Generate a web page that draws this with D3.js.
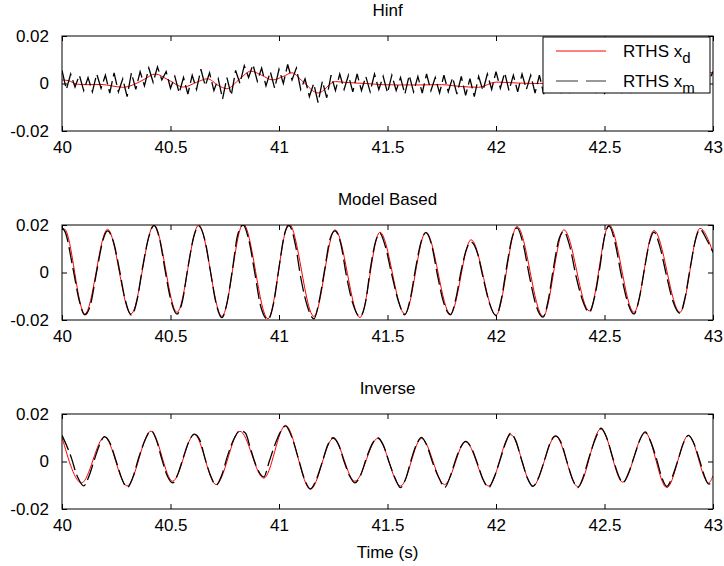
<!DOCTYPE html>
<html>
<head>
<meta charset="utf-8">
<script src="https://cdn.jsdelivr.net/npm/d3@7"></script>
<style>
body { margin: 0; background: #fff; }
text { font-family: "Liberation Sans", Arial, sans-serif; fill: #000; }
</style>
</head>
<body>
<svg></svg>
<script>
var W = 724, H = 566;

var xTicks = [40, 40.5, 41, 41.5, 42, 42.5, 43];
var xTickLabels = ['40', '40.5', '41', '41.5', '42', '42.5', '43'];
var yTicks = [-0.02, 0, 0.02];
var yTickLabels = ['-0.02', '0', '0.02'];
var titles = ['Hinf', 'Model Based', 'Inverse'];
var legendNames = [['RTHS x', 'd'], ['RTHS x', 'm']];

// values in units of 1e-3 m, pairs are [time (s), value]
var hinfXd = [[40.0, 1.5], [40.03, 1.2], [40.07, -0.3], [40.12, -0.5], [40.18, -0.4], [40.23, -1.0],
  [40.28, -1.6], [40.33, -0.5], [40.38, 1.8], [40.43, 4.0], [40.49, 1.5], [40.56, -1.5], [40.62, 0.5],
  [40.67, 2.0], [40.72, -0.8], [40.76, -2.2], [40.82, 2.0], [40.87, 5.2], [40.92, 3.5], [40.97, 1.5],
  [41.02, 3.0], [41.06, 4.5], [41.11, 0.8], [41.18, -4.0], [41.26, 0.8], [41.3, 0.5], [41.4, 0],
  [41.48, -0.5], [41.55, -0.6], [41.65, -0.6], [41.75, -0.5], [41.83, -1.2], [41.92, -1.6], [42.0, 0.6],
  [42.1, 0.2], [42.2, 0], [42.3, 0.5], [42.45, 1], [42.6, 0], [42.75, 1.5], [42.9, 3], [43.0, 4.7]];

// measured Hinf response, one sample every 0.02 s starting at 40 s
var hinfStart = 40, hinfStep = 0.02;
var hinfXm = [
  5.5, -2.5, 4, -1.5, 3.5, -3, 2.5, -3.5, 4, -2,
  3.5, -4, 4.5, -3.5, 2, -5.5, 4.5, -2.5, 5, -1,
  6.5, 0.5, 7, 1.5, 5, -2, 3, -4, 2.5, -4.5,
  3.5, -2.5, 6, -1, 4.5, -3, 2, -6.5, 2.5, -5,
  5.5, 0, 7.5, 2.5, 8, 1, 6.5, -1, 5, -2,
  6, 0, 8, 1.5, 6.5, -2.5, 2, -5.5, 0, -8,
  1, -6, 3.5, -3, 4, -2.5, 3.5, -3.5, 4, -3,
  3, -3.5, 4, -2.5, 3, -4, 3.5, -3, 2.5, -4.5,
  3.5, -3.5, 3, -4, 4, -3, 2.5, -4, 3.5, -3.5,
  2.5, -4.5, 3, -5, 2, -5.5, 3, -3, 4, -2.5,
  5, -2, 4.5, -3, 3.5, -3.5, 4, -2.5, 3.5, -4,
  3.5, -4.5, 4, -3, 3.5, -3.5, 3, -4, 3.5, -3,
  4, -3.5, 3.5, -4, 3, -4.5, 4, -3, 3.5, -4,
  3, -4, 3.5, -3.5, 4.5, -2.5, 4, -3, 5, -2,
  5.5, -1.5, 5, -2, 6, -1, 5.5, -0.5, 6, 1,
  5];

var modelXd = [[40.0, 18.5], [40.012, 18.3], [40.105, -17.5], [40.21, 18.2], [40.318, -17.5], [40.424, 20.0],
  [40.53, -16.8], [40.63, 20.0], [40.737, -18.5], [40.835, 20.5], [40.949, -19.5], [41.046, 20.5],
  [41.161, -18.5], [41.258, 18.0], [41.373, -19.0], [41.465, 17.0], [41.58, -17.5], [41.677, 17.0],
  [41.79, -17.5], [41.885, 13.8], [42.0, -18.0], [42.097, 19.4], [42.217, -18.5], [42.313, 18.0],
  [42.43, -16.2], [42.521, 20.0], [42.636, -16.8], [42.728, 17.7], [42.848, -16.8], [42.94, 18.6],
  [43.0, 8.5]];

var modelXm = [[40.0, 18.8], [40.015, 17], [40.05, 2], [40.08, -12], [40.105, -17.8], [40.13, -14],
  [40.16, 0.5], [40.19, 14], [40.21, 17.5], [40.24, 12], [40.265, 1], [40.29, -11], [40.32, -18],
  [40.345, -12], [40.37, 1.5], [40.4, 15], [40.424, 19.8], [40.45, 14], [40.475, 1], [40.5, -11],
  [40.53, -17.5], [40.555, -12], [40.58, 2], [40.61, 16], [40.63, 19.5], [40.66, 13], [40.685, 0],
  [40.71, -13], [40.737, -19], [40.76, -13], [40.785, 1], [40.81, 16], [40.835, 20], [40.86, 14],
  [40.89, -1], [40.915, -14], [40.949, -19.8], [40.975, -13], [41.0, 2], [41.025, 16], [41.046, 19.8],
  [41.075, 12], [41.1, -2], [41.13, -14], [41.161, -19.5], [41.185, -12], [41.21, 1], [41.235, 14],
  [41.258, 17.5], [41.285, 12], [41.31, -1], [41.34, -13], [41.373, -18.5], [41.4, -12], [41.42, 1],
  [41.445, 13], [41.465, 16.5], [41.49, 11], [41.52, -1], [41.55, -12], [41.58, -17.8], [41.605, -11],
  [41.63, 2], [41.655, 13], [41.677, 16.8], [41.705, 11], [41.73, -1], [41.76, -13], [41.79, -17.8],
  [41.815, -11], [41.84, 1], [41.865, 10], [41.885, 12.8], [41.915, 8], [41.94, -2], [41.97, -13],
  [42.0, -18.2], [42.025, -11], [42.05, 3], [42.075, 15], [42.097, 18.8], [42.125, 12], [42.155, -2],
  [42.185, -14], [42.217, -18.8], [42.24, -12], [42.265, 2], [42.29, 14], [42.313, 17.2], [42.34, 11],
  [42.37, -2], [42.4, -12], [42.43, -16.8], [42.455, -10], [42.48, 3], [42.5, 15], [42.521, 19.5],
  [42.55, 12], [42.575, 0], [42.605, -12], [42.636, -17.5], [42.66, -11], [42.685, 2], [42.708, 13],
  [42.728, 17], [42.755, 11], [42.785, -1], [42.815, -12], [42.848, -17.2], [42.87, -11], [42.895, 2],
  [42.92, 14], [42.94, 18.2], [42.97, 14], [43.0, 8.5]];

var invXd = [[40.0, 10.3], [40.09, -9.0], [40.196, 10.3], [40.30, -10.3], [40.41, 12.8], [40.51, -8.3],
  [40.61, 11.4], [40.71, -9.7], [40.82, 12.7], [40.93, -7], [41.03, 15.2], [41.145, -11.7],
  [41.25, 9.7], [41.35, -8.3], [41.455, 9.7], [41.56, -10.3], [41.657, 9.7], [41.763, -9.7],
  [41.86, 8.3], [41.966, -10.3], [42.068, 11.3], [42.17, -10.3], [42.275, 10.6], [42.377, -10.6],
  [42.484, 13.8], [42.584, -8.7], [42.687, 12.1], [42.787, -11], [42.887, 11], [42.98, -9], [43.0, -6]];

var invXm = [[40.0, 11], [40.02, 7], [40.045, 1], [40.065, -5], [40.08, -8], [40.1, -10.3], [40.125, -6],
  [40.15, 1], [40.175, 7.5], [40.196, 10.5], [40.22, 8], [40.25, 0], [40.275, -7], [40.3, -11],
  [40.325, -7], [40.355, 2], [40.385, 9.5], [40.41, 13], [40.435, 9], [40.46, 1], [40.485, -6],
  [40.51, -9], [40.535, -5], [40.56, 2], [40.585, 8.5], [40.61, 11.5], [40.635, 9], [40.66, 1],
  [40.685, -6], [40.71, -10], [40.735, -6], [40.765, 3], [40.795, 10], [40.82, 13], [40.845, 12],
  [40.87, 5], [40.9, -3], [40.93, -6.5], [40.955, 0], [40.985, 8], [41.01, 13], [41.03, 15],
  [41.06, 10], [41.09, 1], [41.12, -8], [41.145, -11.5], [41.17, -8], [41.2, 0], [41.225, 7],
  [41.25, 10], [41.275, 7], [41.3, 0], [41.325, -6], [41.35, -9], [41.375, -6], [41.405, 2],
  [41.43, 7.5], [41.455, 10], [41.48, 7], [41.51, -1], [41.535, -7], [41.56, -11], [41.585, -7],
  [41.61, 1], [41.635, 7.5], [41.657, 10.2], [41.68, 7], [41.71, -1], [41.74, -7.5], [41.763, -11],
  [41.79, -6], [41.815, 1], [41.84, 6.5], [41.86, 8.5], [41.885, 6], [41.915, -1], [41.94, -7.5],
  [41.966, -11], [41.99, -7], [42.02, 1], [42.045, 8], [42.068, 12], [42.09, 9], [42.12, 0],
  [42.145, -7], [42.17, -10.5], [42.195, -7], [42.225, 1], [42.25, 8], [42.275, 10.8], [42.3, 8],
  [42.33, -1], [42.355, -8], [42.377, -11], [42.4, -7], [42.43, 2], [42.46, 10], [42.484, 14],
  [42.51, 10], [42.54, 1], [42.565, -6], [42.584, -9], [42.61, -5], [42.64, 3], [42.665, 9.5],
  [42.687, 12.5], [42.71, 9], [42.74, 1], [42.765, -7], [42.787, -10.5], [42.81, -7], [42.84, 1],
  [42.865, 8], [42.887, 11], [42.91, 8], [42.94, 0], [42.96, -6], [42.98, -9.5], [43.0, -8]];

var panels = [
  { title: titles[0], top: 36, xd: hinfXd, xm: hinfXm.map(function (v, i) { return [hinfStart + i * hinfStep, v]; }), curveXm: d3.curveLinear, legend: true },
  { title: titles[1], top: 225, xd: modelXd, xm: modelXm, curveXm: d3.curveMonotoneX },
  { title: titles[2], top: 414, xd: invXd, xm: invXm, curveXm: d3.curveMonotoneX }
];

var left = 62, right = 713, ph = 95;

var svg = d3.select('svg')
    .attr('width', W)
    .attr('height', H)
    .style('display', 'block')
    .style('background-color', '#fff');

var x = d3.scaleLinear().domain([40, 43]).range([left, right]);

panels.forEach(function (p, k) {
    var y = d3.scaleLinear().domain([-0.02, 0.02]).range([p.top + ph, p.top]);
    var g = svg.append('g');

    g.append('clipPath')
        .attr('id', 'clip' + k)
        .append('rect')
        .attr('x', left).attr('y', p.top)
        .attr('width', right - left).attr('height', ph);

    var line = function (curve) {
        return d3.line()
            .x(function (d) { return x(d[0]); })
            .y(function (d) { return y(d[1] / 1000); })
            .curve(curve);
    };

    var plot = g.append('g').attr('clip-path', 'url(#clip' + k + ')');
    plot.append('path')
        .attr('d', line(d3.curveMonotoneX)(p.xd))
        .attr('fill', 'none')
        .attr('stroke', '#ff0000')
        .attr('stroke-width', 1);
    plot.append('path')
        .attr('d', line(p.curveXm)(p.xm))
        .attr('fill', 'none')
        .attr('stroke', '#000')
        .attr('stroke-width', 1.3)
        .attr('stroke-dasharray', '16,5');

    // axes, ticks pointing inward on all four sides
    g.append('g')
        .attr('transform', 'translate(0,' + (p.top + ph) + ')')
        .call(d3.axisBottom(x).tickValues(xTicks).tickSize(-5).tickPadding(10)
            .tickFormat(function (d, i) { return xTickLabels[i]; }))
        .call(function (a) { a.select('.domain').remove(); });
    g.append('g')
        .attr('transform', 'translate(0,' + p.top + ')')
        .call(d3.axisTop(x).tickValues(xTicks).tickSize(-5).tickFormat(''))
        .call(function (a) { a.select('.domain').remove(); });
    g.append('g')
        .attr('transform', 'translate(' + left + ',0)')
        .call(d3.axisLeft(y).tickValues(yTicks).tickSize(-5).tickPadding(13)
            .tickFormat(function (d, i) { return yTickLabels[i]; }))
        .call(function (a) { a.select('.domain').remove(); });
    g.append('g')
        .attr('transform', 'translate(' + right + ',0)')
        .call(d3.axisRight(y).tickValues(yTicks).tickSize(-5).tickFormat(''))
        .call(function (a) { a.select('.domain').remove(); });
    g.selectAll('.tick text').style('font-size', '17px').attr('fill', '#000');
    g.selectAll('.tick line').attr('stroke', '#000');

    g.append('rect')
        .attr('x', left).attr('y', p.top)
        .attr('width', right - left).attr('height', ph)
        .attr('fill', 'none')
        .attr('stroke', '#000')
        .attr('stroke-width', 1);

    g.append('text')
        .text(p.title)
        .attr('x', (left + right) / 2)
        .attr('y', p.top - 20)
        .attr('text-anchor', 'middle')
        .style('font-size', '17px');

    if (p.legend) {
        var lg = g.append('g').attr('transform', 'translate(543,37)');
        lg.append('rect')
            .attr('width', 167).attr('height', 56)
            .attr('fill', '#fff').attr('stroke', '#000');
        legendNames.forEach(function (n, i) {
            var ly = 14 + i * 30;
            lg.append('line')
                .attr('x1', 13).attr('x2', 63).attr('y1', ly).attr('y2', ly)
                .attr('stroke', i === 0 ? '#ff0000' : '#333')
                .attr('stroke-dasharray', i === 0 ? null : '22,8');
            var t = lg.append('text')
                .attr('x', 80).attr('y', ly + 6)
                .style('font-size', '17px');
            t.append('tspan').text(n[0]);
            t.append('tspan').text(n[1]).attr('dy', 6).style('font-size', '15px');
        });
    }
});

svg.append('text')
    .text('Time (s)')
    .attr('x', (left + right) / 2)
    .attr('y', 558)
    .attr('text-anchor', 'middle')
    .style('font-size', '17px');
</script>
</body>
</html>
